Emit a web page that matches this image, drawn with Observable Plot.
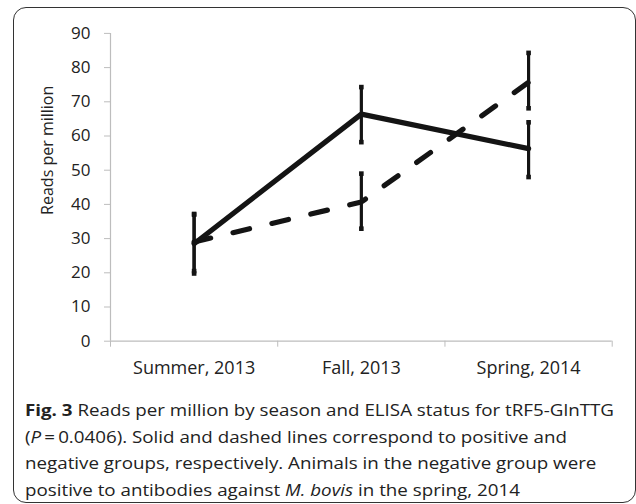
<!DOCTYPE html>
<html>
<head>
<meta charset="utf-8">
<script src="https://cdn.jsdelivr.net/npm/d3@7"></script>
<script src="https://cdn.jsdelivr.net/npm/@observablehq/plot@0.6"></script>
<style>
  html, body { margin: 0; padding: 0; background: #fff; }
  body { width: 636px; height: 504px; position: relative; overflow: hidden; font-family: "Open Sans", sans-serif; }
  #frame { position: absolute; left: 13px; top: 7px; width: 623px; height: 496px; border: 1.5px solid #333; border-radius: 13px; box-sizing: border-box; }
  #chart { position: absolute; left: 0; top: 0; }
  #caption { position: absolute; left: 25px; top: 397px; font-size: 16.5px; line-height: 26.7px; color: #222; white-space: nowrap; transform-origin: 0 0; }
  #caption b { font-weight: 700; }
  #caption span { display: block; }
</style>
</head>
<body>
<div id="frame"></div>
<div id="chart"></div>
<div id="caption">
  <span id="cap1"><b>Fig. 3</b> Reads per million by season and ELISA status for tRF5-GlnTTG</span>
  <span>(<i>P</i>&#8201;=&#8201;0.0406). Solid and dashed lines correspond to positive and</span>
  <span>negative groups, respectively. Animals in the negative group were</span>
  <span>positive to antibodies against <i>M. bovis</i> in the spring, 2014</span>
</div>
<script>
const categories = ["Summer, 2013", "Fall, 2013", "Spring, 2014"];
const positiveMean = [28.5, 66.4, 56.3];
const positiveLow  = [19.8, 58.2, 48.0];
const positiveHigh = [37.2, 74.3, 64.0];
const negativeMean = [29.0, 40.7, 75.7];
const negativeLow  = [20.5, 32.9, 68.1];
const negativeHigh = [37.0, 49.0, 84.3];
const yTicks = [0, 10, 20, 30, 40, 50, 60, 70, 80, 90];
const yLabel = "Reads per million";

const rows = [];
categories.forEach((c, i) => {
  rows.push({group: "positive", season: c, x: i + 0.5, y: positiveMean[i], lo: positiveLow[i], hi: positiveHigh[i]});
});
categories.forEach((c, i) => {
  rows.push({group: "negative", season: c, x: i + 0.5, y: negativeMean[i], lo: negativeLow[i], hi: negativeHigh[i]});
});
const pos = rows.filter(d => d.group === "positive");
const neg = rows.filter(d => d.group === "negative");
const boundaries = d3.range(categories.length + 1);
const centers = categories.map((c, i) => ({label: c, x: i + 0.5}));

const ink = "#141414";
const plot = Plot.plot({
  width: 636,
  height: 390,
  marginLeft: 110,
  marginRight: 24.3,
  marginTop: 32.9,
  marginBottom: 49.3,
  style: {fontFamily: "Open Sans, sans-serif", fontSize: "17px", color: "#222", background: "transparent"},
  x: {domain: [0, categories.length], axis: null},
  y: {domain: [0, 90], axis: null},
  marks: [
    Plot.axisY({ticks: yTicks, tickSize: 6, tickPadding: 14, stroke: "#bdbdbd", fill: "#222", label: null, fontSize: 17}),
    Plot.ruleX([0], {stroke: "#bdbdbd", strokeWidth: 1.2}),
    Plot.ruleY([0], {stroke: "#bdbdbd", strokeWidth: 1.2}),
    Plot.axisX({ticks: boundaries, tickSize: 6, tickFormat: () => "", stroke: "#bdbdbd", label: null}),
    Plot.text(centers, {x: "x", text: "label", frameAnchor: "bottom", dy: 27, lineAnchor: "middle", fill: "#222", fontSize: 18}),
    Plot.text([yLabel], {frameAnchor: "left", dx: -63, dy: -37, rotate: -90, textAnchor: "middle", lineAnchor: "middle", fill: "#222", fontSize: 16}),
    // error bars
    Plot.ruleX(rows, {x: "x", y1: "lo", y2: "hi", stroke: ink, strokeWidth: 3.2}),
    Plot.dot(rows, {x: "x", y: "lo", symbol: "square", r: 2.6, fill: ink, stroke: "none"}),
    Plot.dot(rows, {x: "x", y: "hi", symbol: "square", r: 2.6, fill: ink, stroke: "none"}),
    // lines
    Plot.line(neg, {x: "x", y: "y", stroke: ink, strokeWidth: 5.2, strokeDasharray: "17,23", strokeLinecap: "round"}),
    Plot.line(pos, {x: "x", y: "y", stroke: ink, strokeWidth: 5.2, strokeLinejoin: "miter"})
  ]
});
document.getElementById("chart").appendChild(plot);

// stretch the caption horizontally so the first line spans the same width as in the figure
const cap = document.getElementById("caption");
const w = document.getElementById("cap1").getBoundingClientRect().width;
if (w > 0) cap.style.transform = `scaleX(${589 / w})`;
</script>
</body>
</html>
